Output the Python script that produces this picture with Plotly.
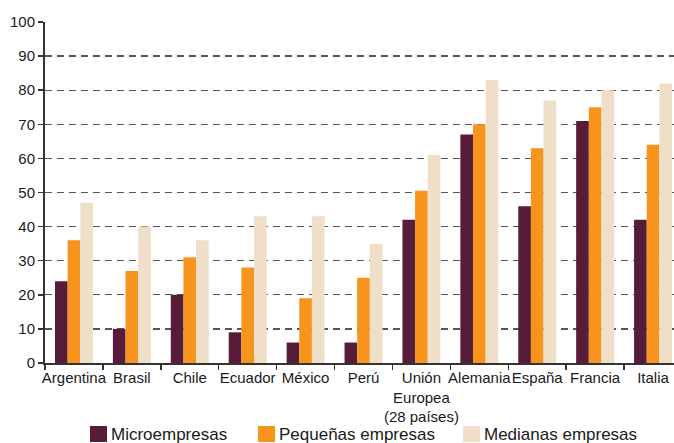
import plotly.graph_objects as go

categories = ["Argentina", "Brasil", "Chile", "Ecuador", "México", "Perú",
              "Unión<br>Europea<br>(28 países)", "Alemania", "España", "Francia", "Italia"]
micro = [24, 10, 20, 9, 6, 6, 42, 67, 46, 71, 42]
pequenas = [36, 27, 31, 28, 19, 25, 50.5, 70, 63, 75, 64]
medianas = [47, 40, 36, 43, 43, 35, 61, 83, 77, 80, 82]
y_ticks = [0, 10, 20, 30, 40, 50, 60, 70, 80, 90, 100]

series = [
    ("Microempresas", micro, "#561C3A"),
    ("Pequeñas empresas", pequenas, "#F7941D"),
    ("Medianas empresas", medianas, "#EFDFC8"),
]

fig = go.Figure()
for name, vals, color in series:
    fig.add_trace(go.Bar(x=list(range(len(categories))), y=vals, name=name,
                         showlegend=False, hoverinfo="skip",
                         marker=dict(color=color, line=dict(width=0))))

# manual legend (paper coordinates; plot area = x 45..674, y 22..363 px)
W, H = 674, 443
L, R, T, B = 45, 0, 22, 80
pw, ph = W - L - R, H - T - B
def px(x):
    return (x - L) / pw
def py(y):
    return (H - B - y) / ph

legend_pos = [90, 258, 463]
for (name, vals, color), x0 in zip(series, legend_pos):
    fig.add_shape(type="rect", xref="paper", yref="paper",
                  x0=px(x0), x1=px(x0 + 17), y0=py(442), y1=py(426),
                  fillcolor=color, line=dict(width=0))
    fig.add_annotation(text=name, xref="paper", yref="paper",
                       x=px(x0 + 19), y=py(434), xanchor="left", yanchor="middle",
                       showarrow=False, font=dict(size=17, color="#1a1a1a"))

fig.update_layout(
    width=W, height=H,
    margin=dict(l=L, r=R, t=T, b=B),
    paper_bgcolor="white", plot_bgcolor="white",
    barmode="group", bargap=0.345, bargroupgap=0,
    font=dict(family="Liberation Sans, Arial, sans-serif", size=15, color="#1a1a1a"),
    showlegend=False,
)
fig.update_xaxes(
    type="linear",
    tickmode="array",
    tickvals=list(range(len(categories))),
    ticktext=categories,
    tickangle=0,
    automargin=False,
    range=[-0.5, 10.362],
    showline=True, linecolor="#333", linewidth=2,
    ticks="", showgrid=False, zeroline=False,
    tickfont=dict(size=15),
)
fig.update_xaxes(minor=dict(tickmode="array", tickvals=[i + 0.5 for i in range(-1, 11)],
                            ticks="outside", ticklen=5, tickcolor="#333", tickwidth=1.5,
                            showgrid=False))
fig.update_yaxes(
    range=[0, 100], tickmode="array", tickvals=y_ticks,
    automargin=False,
    showline=True, linecolor="#333", linewidth=2,
    ticks="outside", ticklen=5, tickcolor="#333", tickwidth=1.5,
    showgrid=True, gridcolor="#555", griddash="7px,5px", gridwidth=1.3,
    zeroline=False, tickfont=dict(size=15),
)
fig.write_html("out.html",
               config={"displayModeBar": False, "staticPlot": True},
               post_script="document.body.style.margin='0';document.body.style.overflow='hidden';")
